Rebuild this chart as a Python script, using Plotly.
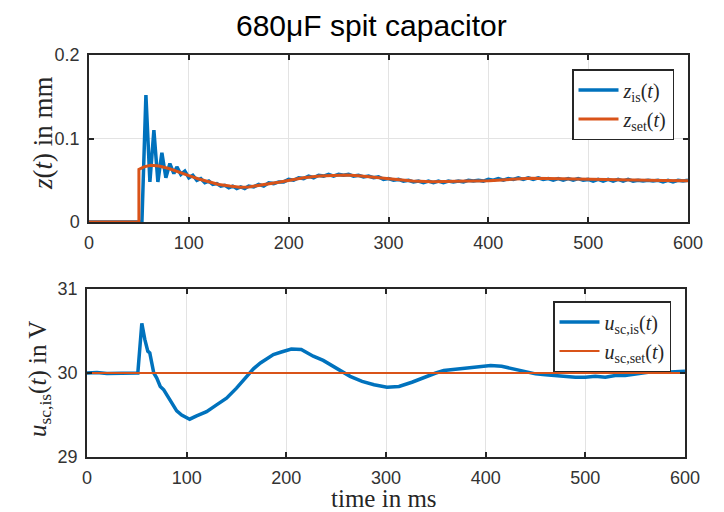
import plotly.graph_objects as go

# ---------------- data ----------------
t_z_is = [0, 10, 20, 30, 40, 50, 53, 57, 61, 65, 69, 73, 77, 81, 85, 88, 92, 96, 100, 104,
          108, 112, 116, 120, 124, 128, 132, 136, 140, 144, 148, 152, 156, 160, 165, 170, 175,
          180, 185, 190, 195, 200, 205, 210, 215, 220, 225, 230, 235, 240, 245, 250, 255, 260,
          265, 270, 275, 280, 285, 290, 295, 300, 305, 310, 315, 320, 325, 330, 335, 340, 345,
          350, 355, 360, 365, 370, 375, 380, 385, 390, 395, 400, 405, 410, 415, 420, 425, 430,
          435, 440, 445, 450, 455, 460, 465, 470, 475, 480, 485, 490, 495, 500, 505, 510, 515,
          520, 525, 530, 535, 540, 545, 550, 555, 560, 565, 570, 575, 580, 585, 590, 595, 600]
z_is = [0, 0, 0, 0, 0, 0, 0, 0.152, 0.048, 0.110, 0.048, 0.083, 0.053, 0.070, 0.058, 0.066,
        0.057, 0.061, 0.053, 0.056, 0.050, 0.052, 0.047, 0.049, 0.045, 0.046, 0.043, 0.044,
        0.041, 0.043, 0.040, 0.042, 0.040, 0.043, 0.042, 0.045, 0.043, 0.047, 0.046, 0.048,
        0.048, 0.051, 0.050, 0.053, 0.052, 0.055, 0.053, 0.056, 0.055, 0.057, 0.055, 0.057,
        0.056, 0.057, 0.055, 0.056, 0.054, 0.055, 0.053, 0.054, 0.051, 0.052, 0.050, 0.051,
        0.049, 0.050, 0.048, 0.049, 0.047, 0.049, 0.047, 0.049, 0.047, 0.049, 0.048, 0.049,
        0.048, 0.050, 0.049, 0.050, 0.049, 0.051, 0.050, 0.052, 0.050, 0.052, 0.051, 0.053,
        0.051, 0.053, 0.051, 0.053, 0.051, 0.052, 0.050, 0.052, 0.050, 0.052, 0.050, 0.052,
        0.050, 0.051, 0.049, 0.051, 0.049, 0.051, 0.049, 0.051, 0.049, 0.051, 0.049, 0.050,
        0.049, 0.050, 0.049, 0.050, 0.048, 0.050, 0.048, 0.050, 0.049, 0.050]

t_z_set = [0, 50, 50, 55, 62, 70, 80, 91, 100, 110, 120, 130, 141, 151, 160, 174, 190, 201,
           215, 231, 245, 258, 270, 281, 301, 324, 344, 360, 380, 401, 420, 441, 460, 480,
           498, 520, 550, 575, 600]
z_set = [0, 0, 0.063, 0.066, 0.068, 0.067, 0.064, 0.059, 0.0555, 0.0515, 0.048, 0.045,
         0.043, 0.0416, 0.042, 0.0443, 0.0475, 0.050, 0.053, 0.055, 0.056, 0.0563, 0.0555,
         0.0543, 0.0515, 0.049, 0.0483, 0.0483, 0.049, 0.0495, 0.051, 0.0523, 0.052, 0.0515,
         0.051, 0.0503, 0.050, 0.0497, 0.0495]

t_u_is = [0, 10, 20, 30, 40, 50, 51, 55, 58, 61, 63, 65, 67, 70, 73.5, 77, 80, 85, 90, 95,
          103, 110, 120, 130, 140, 150, 160, 167, 174, 180, 187, 195, 205, 215, 227, 237, 247,
          256, 264, 276, 288, 301, 313, 326, 338, 350, 358, 366, 375, 383, 392, 405, 416, 427,
          438, 450, 460, 470, 480, 490, 500, 510, 520, 530, 540, 550, 560, 570, 580, 590, 600]
u_is = [30.0, 30.005, 29.995, 30.0, 30.005, 30.0, 30.0, 30.59, 30.40, 30.26, 30.24, 30.10,
        30.0, 29.94, 29.84, 29.80, 29.74, 29.65, 29.55, 29.50, 29.45, 29.49, 29.54, 29.62,
        29.70, 29.82, 29.96, 30.05, 30.12, 30.17, 30.22, 30.25, 30.285, 30.28, 30.20, 30.15,
        30.08, 30.02, 29.96, 29.90, 29.86, 29.83, 29.84, 29.89, 29.95, 30.0, 30.03, 30.04,
        30.06, 30.07, 30.08, 30.09, 30.08, 30.05, 30.02, 29.99, 29.98, 29.97, 29.95, 29.95,
        29.95, 29.96, 29.95, 29.97, 29.97, 29.99, 30.0, 30.02, 30.01, 30.02, 30.02]

t_u_set = [0, 600]
u_set = [30.0, 30.0]

x_ticks = [0, 100, 200, 300, 400, 500, 600]
z_ticks = [0, 0.1, 0.2]
z_tick_labels = ["0", "0.1", "0.2"]
u_ticks = [29, 30, 31]
u_tick_labels = ["29", "30", "31"]

# ---------------- style ----------------
BLUE = "#0072BD"
ORANGE = "#D95319"
AX = "#262626"
GRID = "#e3e3e3"
SANS = "Liberation Sans, Arial, sans-serif"
SERIF = "Liberation Serif, Times New Roman, serif"
W, H = 724, 512

fig = go.Figure()
fig.add_trace(go.Scatter(x=t_z_is, y=z_is, mode="lines", name="<i>z</i><sub>is</sub>(<i>t</i>)",
                         line=dict(color=BLUE, width=3.5), xaxis="x", yaxis="y", legend="legend"))
fig.add_trace(go.Scatter(x=t_z_set, y=z_set, mode="lines", name="<i>z</i><sub>set</sub>(<i>t</i>)",
                         line=dict(color=ORANGE, width=3), xaxis="x", yaxis="y", legend="legend"))
fig.add_trace(go.Scatter(x=t_u_is, y=u_is, mode="lines", name="<i>u</i><sub>sc,is</sub>(<i>t</i>)",
                         line=dict(color=BLUE, width=3.5), xaxis="x2", yaxis="y2", legend="legend2"))
fig.add_trace(go.Scatter(x=t_u_set, y=u_set, mode="lines", name="<i>u</i><sub>sc,set</sub>(<i>t</i>)",
                         line=dict(color=ORANGE, width=2), xaxis="x2", yaxis="y2", legend="legend2"))

def xax(dom, anchor):
    return dict(domain=dom, anchor=anchor, range=[0, 600], tickvals=x_ticks,
                ticks="inside", ticklen=5, tickcolor=AX, tickwidth=1.5,
                showline=True, linecolor=AX, linewidth=1.5, mirror="ticks",
                showgrid=True, gridcolor=GRID, gridwidth=1, zeroline=False,
                automargin=False, ticklabelstandoff=4,
                tickfont=dict(family=SANS, size=18, color="#333333"))

def yax(dom, anchor, rng, tv, tt):
    return dict(domain=dom, anchor=anchor, range=rng, tickvals=tv, ticktext=tt,
                ticks="inside", ticklen=5, tickcolor=AX, tickwidth=1.5,
                showline=True, linecolor=AX, linewidth=1.5, mirror="ticks",
                showgrid=True, gridcolor=GRID, gridwidth=1, zeroline=False,
                automargin=False, ticklabelstandoff=4,
                tickfont=dict(family=SANS, size=18, color="#333333"))

def ann(text, x, y, size, family, angle=0, color=AX):
    return dict(text=text, x=x / W, y=1 - y / H, xref="paper", yref="paper",
                xanchor="center", yanchor="middle", showarrow=False, textangle=angle,
                font=dict(family=family, size=size, color=color))

legend_style = dict(xanchor="right", yanchor="top", bgcolor="white", bordercolor=AX,
                    borderwidth=1.5, font=dict(family=SERIF, size=20, color=AX),
                    tracegroupgap=0, itemwidth=40)

fig.update_layout(
    width=W, height=H,
    margin=dict(l=0, r=0, t=0, b=0),
    paper_bgcolor="white", plot_bgcolor="white",
    xaxis=xax([89 / W, 688 / W], "y"),
    yaxis=yax([1 - 222 / H, 1 - 55 / H], "x", [0, 0.2], z_ticks, z_tick_labels),
    xaxis2=xax([87 / W, 685 / W], "y2"),
    yaxis2=yax([1 - 457 / H, 1 - 289 / H], "x2", [29, 31], u_ticks, u_tick_labels),
    legend=dict(x=674 / W, y=1 - 69 / H, **legend_style),
    legend2=dict(x=671 / W, y=1 - 301 / H, **legend_style),
    showlegend=True,
    annotations=[
        ann("680μF spit capacitor", 371, 25, 30, SANS, color="black"),
        ann("<i>z</i>(<i>t</i>) in mm", 43, 133, 27, SERIF, -90),
        ann("<i>u</i><sub>sc,is</sub>(<i>t</i>) in V", 39, 379, 25, SERIF, -90),
        ann("time in ms", 384, 498, 25, SERIF),
    ],
)

fig.write_html("out.html", config={"displayModeBar": False},
               post_script="document.body.style.margin='0';document.body.style.overflow='hidden';")
